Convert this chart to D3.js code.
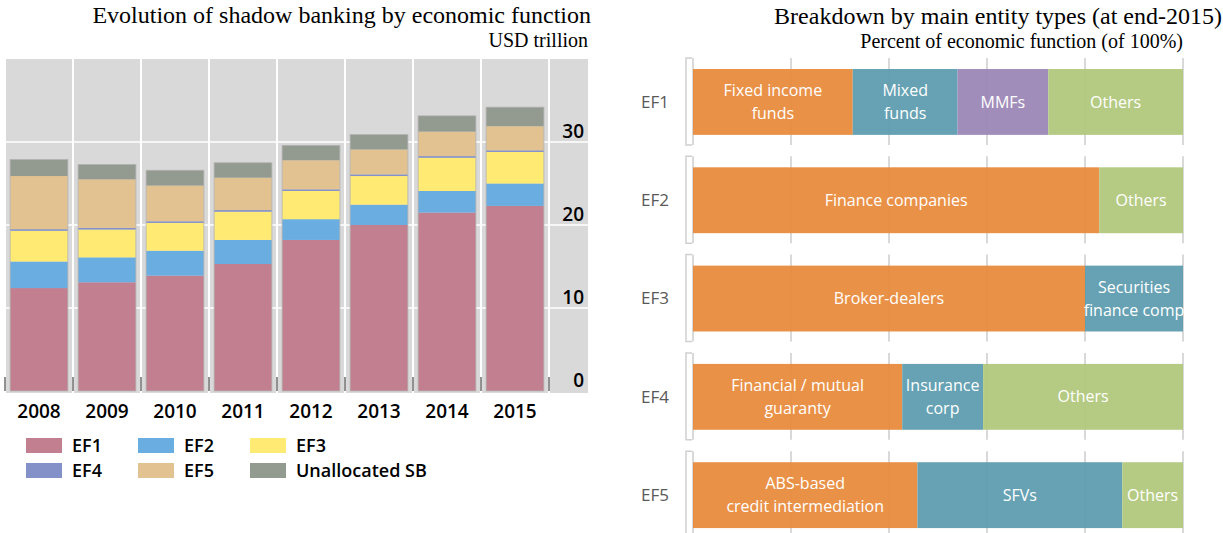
<!DOCTYPE html>
<html>
<head>
<meta charset="utf-8">
<script src="https://cdn.jsdelivr.net/npm/d3@7"></script>
<style>
  body { margin: 0; background: #fff; }
  svg { display: block; }
</style>
</head>
<body>
<script>
// left chart data, USD trillion
var years = ["2008", "2009", "2010", "2011", "2012", "2013", "2014", "2015"];
var seriesNames = ["EF1", "EF2", "EF3", "EF4", "EF5", "Unallocated SB"];
var ef1 = [12.4, 13.1, 13.9, 15.3, 18.2, 20.0, 21.5, 22.3];
var ef2 = [3.2, 3.0, 3.0, 2.9, 2.5, 2.45, 2.6, 2.7];
var ef3 = [3.7, 3.35, 3.35, 3.4, 3.4, 3.45, 4.0, 3.8];
var ef4 = [0.2, 0.2, 0.2, 0.2, 0.2, 0.2, 0.2, 0.2];
var ef5 = [6.4, 5.85, 4.3, 3.9, 3.5, 3.0, 2.95, 2.9];
var unalloc = [2.0, 1.8, 1.85, 1.8, 1.8, 1.8, 1.9, 2.3];
var yTicks = [0, 10, 20, 30];

// right chart data, percent of each economic function
var functions = ["EF1", "EF2", "EF3", "EF4", "EF5"];
var ef1Entities = ["Fixed income\nfunds", "Mixed\nfunds", "MMFs", "Others"];
var ef1Shares = [32.6, 21.4, 18.5, 27.5];
var ef2Entities = ["Finance companies", "Others"];
var ef2Shares = [82.9, 17.1];
var ef3Entities = ["Broker-dealers", "Securities\nfinance comp"];
var ef3Shares = [80, 20];
var ef4Entities = ["Financial / mutual\nguaranty", "Insurance\ncorp", "Others"];
var ef4Shares = [42.7, 16.5, 40.8];
var ef5Entities = ["ABS-based\ncredit intermediation", "SFVs", "Others"];
var ef5Shares = [45.8, 41.8, 12.4];
var pctTicks = [0, 20, 40, 60, 80, 100];

var W = 1223, H = 533;
var svg = d3.select("body").append("svg").attr("width", W).attr("height", H);

var serif = "'Liberation Serif', 'Times New Roman', serif";
var sans = "'Open Sans', 'DejaVu Sans', sans-serif";

// ---------- left: stacked bars ----------
var colors = d3.scaleOrdinal()
    .domain(seriesNames)
    .range(["#c17f8f", "#6aade0", "#ffeb73", "#8490c8", "#e2c290", "#939a90"]);

var table = years.map(function(y, i) {
    return {year: y, "EF1": ef1[i], "EF2": ef2[i], "EF3": ef3[i], "EF4": ef4[i],
            "EF5": ef5[i], "Unallocated SB": unalloc[i]};
});
var stacked = d3.stack().keys(seriesNames)(table);

var x = d3.scaleBand().domain(years).range([5, 549]).paddingInner(0.15).paddingOuter(0.075);
var y = d3.scaleLinear().domain([0, 40]).range([391, 59]);

var left = svg.append("g");
left.append("rect").attr("x", 5).attr("y", y(40)).attr("width", 583).attr("height", 393 - y(40))
    .attr("fill", "#d9d9d9");

// horizontal gridlines
left.selectAll("line.hg").data(yTicks.filter(function(d) { return d > 0; })).enter()
    .append("line").attr("class", "hg")
    .attr("x1", 5).attr("x2", 588)
    .attr("y1", function(d) { return y(d); }).attr("y2", function(d) { return y(d); })
    .attr("stroke", "#fff").attr("stroke-width", 1.5);

// vertical gridlines between bars
var half = x.step() * x.paddingInner() / 2;
var vEdges = years.map(function(d) { return x(d) - half; });
vEdges.push(x(years[years.length - 1]) + x.bandwidth() + half);
left.selectAll("line.vg").data(vEdges).enter()
    .append("line").attr("class", "vg")
    .attr("x1", function(d) { return d; }).attr("x2", function(d) { return d; })
    .attr("y1", y(40)).attr("y2", 393)
    .attr("stroke", "#fff").attr("stroke-width", 2);
left.selectAll("line.vt").data(vEdges).enter()
    .append("line").attr("class", "vt")
    .attr("x1", function(d) { return d; }).attr("x2", function(d) { return d; })
    .attr("y1", y(0) - 14).attr("y2", y(0))
    .attr("stroke", "#222").attr("stroke-width", 1);

left.selectAll("g.layer").data(stacked).enter()
    .append("g").attr("class", "layer")
    .attr("fill", function(d) { return colors(d.key); })
    .selectAll("rect").data(function(d) { return d; }).enter()
    .append("rect")
    .attr("x", function(d) { return x(d.data.year); })
    .attr("width", x.bandwidth())
    .attr("y", function(d) { return y(d[1]); })
    .attr("height", function(d) { return y(d[0]) - y(d[1]); });

// light outline around each stack
left.selectAll("rect.outline").data(stacked[stacked.length - 1]).enter()
    .append("rect").attr("class", "outline")
    .attr("x", function(d) { return x(d.data.year); })
    .attr("width", x.bandwidth())
    .attr("y", function(d) { return y(d[1]); })
    .attr("height", function(d) { return y(0) - y(d[1]); })
    .attr("fill", "none").attr("stroke", "#b3b3b3").attr("stroke-width", 0.8);

// y labels inside on the right
left.selectAll("text.yl").data(yTicks).enter()
    .append("text").attr("class", "yl")
    .attr("x", 584).attr("y", function(d) { return y(d) - 4; })
    .attr("text-anchor", "end")
    .attr("font-family", sans).attr("font-weight", 600).attr("font-size", "19px")
    .attr("fill", "#000")
    .text(function(d) { return d; });

// x labels
left.selectAll("text.xl").data(years).enter()
    .append("text").attr("class", "xl")
    .attr("x", function(d) { return x(d) + x.bandwidth() / 2; })
    .attr("y", 418)
    .attr("text-anchor", "middle")
    .attr("font-family", sans).attr("font-weight", 600).attr("font-size", "19px")
    .attr("fill", "#000")
    .text(function(d) { return d; });

// legend
var legend = left.selectAll("g.leg").data(seriesNames).enter()
    .append("g").attr("class", "leg")
    .attr("transform", function(d, i) {
        return "translate(" + (26 + (i % 3) * 112) + "," + (438 + Math.floor(i / 3) * 25) + ")";
    });
legend.append("rect").attr("width", 36).attr("height", 15)
    .attr("fill", function(d) { return colors(d); });
legend.append("text").attr("x", 46).attr("y", 14)
    .attr("font-family", sans).attr("font-weight", 600).attr("font-size", "18px")
    .attr("fill", "#000")
    .text(function(d) { return d; });

svg.append("text").attr("x", 591).attr("y", 23).attr("text-anchor", "end")
    .attr("font-family", serif).attr("font-size", "24px").attr("fill", "#000")
    .text("Evolution of shadow banking by economic function");
svg.append("text").attr("x", 588).attr("y", 47).attr("text-anchor", "end")
    .attr("font-family", serif).attr("font-size", "20px").attr("fill", "#000")
    .text("USD trillion");

// ---------- right: 100% breakdown ----------
var rows = [
    {ef: "EF1", labels: ef1Entities, values: ef1Shares},
    {ef: "EF2", labels: ef2Entities, values: ef2Shares},
    {ef: "EF3", labels: ef3Entities, values: ef3Shares},
    {ef: "EF4", labels: ef4Entities, values: ef4Shares},
    {ef: "EF5", labels: ef5Entities, values: ef5Shares}
];
rows.forEach(function(r) {
    var acc = 0;
    r.segs = r.values.map(function(v, i) {
        var s = {label: r.labels[i], idx: i, x0: acc, x1: acc + v};
        acc += v;
        return s;
    });
});

function segColor(s) {
    if (s.label === "Others") return "#afc77a";
    if (s.label === "MMFs") return "#9a84b5";
    return s.idx === 0 ? "#e8893a" : "#5a9bae";
}

var xr = d3.scaleLinear().domain([0, 100]).range([693, 1183]);
var yr = d3.scaleBand().domain(functions).range([52.8, 544.3]).paddingInner(0.33).paddingOuter(0.165);

var panel = svg.selectAll("g.panel").data(rows).enter()
    .append("g").attr("class", "panel")
    .attr("transform", function(d) { return "translate(0," + yr(d.ef) + ")"; });

var bh = yr.bandwidth();
// bracket
panel.append("path")
    .attr("d", "M692,-11H686V" + (bh + 10) + "H692")
    .attr("fill", "none").attr("stroke", "#d0d0d0").attr("stroke-width", 1.5);
// gridlines
panel.selectAll("line.g").data(pctTicks).enter()
    .append("line").attr("class", "g")
    .attr("x1", function(d) { return xr(d); }).attr("x2", function(d) { return xr(d); })
    .attr("y1", -11).attr("y2", bh + 10)
    .attr("stroke", "#d9d9d9").attr("stroke-width", 2);

var seg = panel.selectAll("g.seg").data(function(d) { return d.segs; }).enter()
    .append("g").attr("class", "seg");
seg.append("rect")
    .attr("x", function(d) { return xr(d.x0); })
    .attr("width", function(d) { return xr(d.x1) - xr(d.x0); })
    .attr("y", 0).attr("height", bh)
    .attr("fill", segColor).attr("fill-opacity", 0.93);
seg.each(function(d) {
    var lines = d.label.split("\n");
    var cx = (xr(d.x0) + xr(d.x1)) / 2;
    var t = d3.select(this).append("text")
        .attr("text-anchor", "middle")
        .attr("font-family", sans).attr("font-size", "16px").attr("fill", "#fff");
    lines.forEach(function(l, i) {
        t.append("tspan").attr("x", cx)
            .attr("y", bh / 2 + (i - (lines.length - 1) / 2) * 23)
            .attr("dy", "0.35em")
            .text(l);
    });
});

panel.append("text")
    .attr("x", 655).attr("y", bh / 2).attr("dy", "0.35em")
    .attr("text-anchor", "middle")
    .attr("font-family", sans).attr("font-size", "17px").attr("fill", "#595959")
    .text(function(d) { return d.ef; });

svg.append("text").attr("x", 1222).attr("y", 24).attr("text-anchor", "end")
    .attr("font-family", serif).attr("font-size", "24px").attr("fill", "#000")
    .text("Breakdown by main entity types (at end-2015)");
svg.append("text").attr("x", 1183).attr("y", 48).attr("text-anchor", "end")
    .attr("font-family", serif).attr("font-size", "20px").attr("fill", "#000")
    .text("Percent of economic function (of 100%)");
</script>
</body>
</html>
